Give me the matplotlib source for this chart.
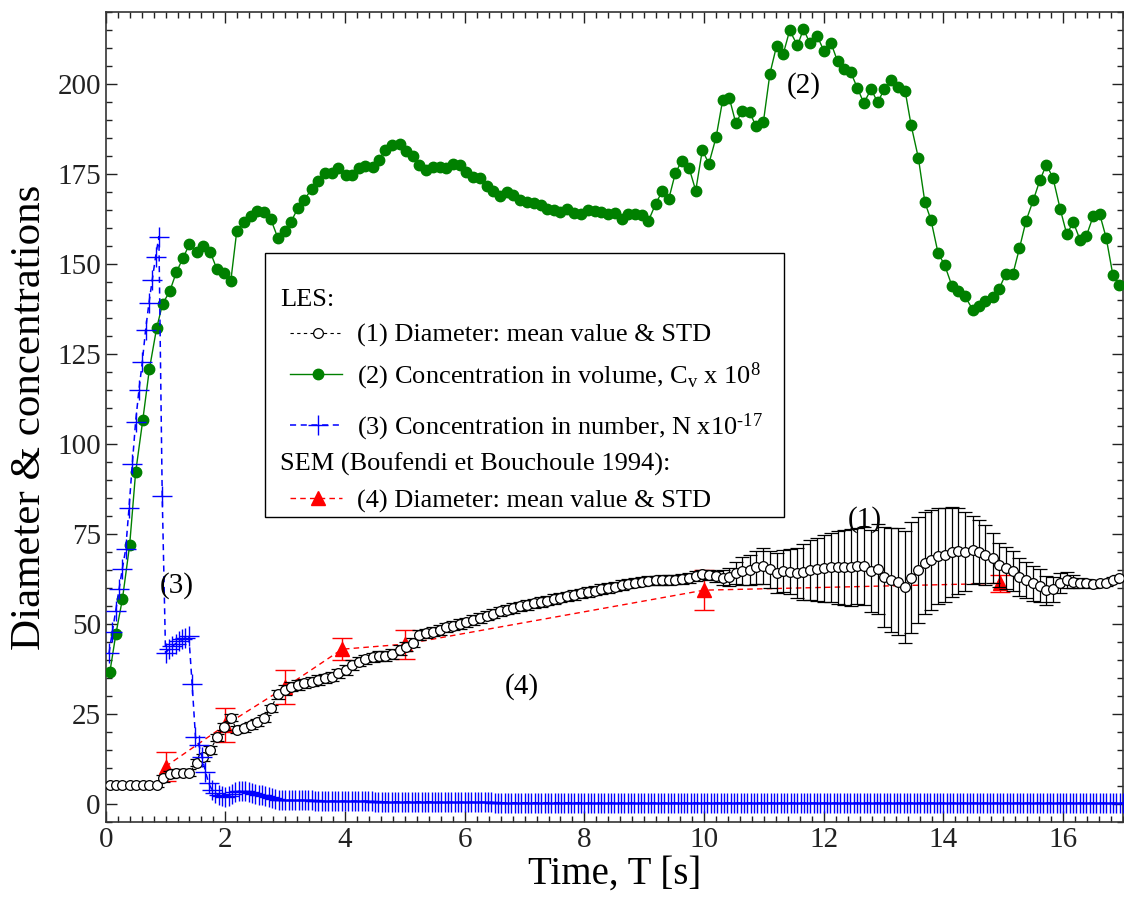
import numpy as np
import matplotlib
matplotlib.use('Agg')
import matplotlib.pyplot as plt
from matplotlib.patches import Rectangle

plt.rcParams['font.family'] = ['Liberation Serif', 'DejaVu Serif']
plt.rcParams['mathtext.fontset'] = 'custom'
plt.rcParams['mathtext.rm'] = 'Liberation Serif'
plt.rcParams['mathtext.it'] = 'Liberation Serif:italic'

# LES time samples (diameter + volume concentration), s
t_les = [0.07, 0.17, 0.28, 0.40, 0.50, 0.62, 0.73, 0.85, 0.95, 1.07,
         1.18, 1.29, 1.40, 1.52, 1.63, 1.75, 1.86, 1.97, 2.09, 2.19,
         2.31, 2.42, 2.53, 2.65, 2.76, 2.88, 2.99, 3.10, 3.21, 3.32,
         3.44, 3.55, 3.67, 3.78, 3.89, 4.01, 4.12, 4.23, 4.34, 4.46,
         4.57, 4.67, 4.79, 4.91, 5.02, 5.14, 5.24, 5.36, 5.47, 5.58,
         5.69, 5.80, 5.92, 6.02, 6.14, 6.26, 6.37, 6.48, 6.59, 6.70,
         6.81, 6.92, 7.04, 7.16, 7.27, 7.38, 7.49, 7.60, 7.71, 7.83,
         7.94, 8.06, 8.17, 8.28, 8.39, 8.51, 8.62, 8.73, 8.84, 8.96,
         9.07, 9.19, 9.30, 9.41, 9.52, 9.63, 9.75, 9.86, 9.97, 10.08,
         10.20, 10.31, 10.42, 10.53, 10.64, 10.76, 10.87, 10.99, 11.10, 11.21,
         11.32, 11.43, 11.56, 11.66, 11.77, 11.89, 12.00, 12.12, 12.23, 12.34,
         12.45, 12.56, 12.67, 12.79, 12.90, 13.01, 13.13, 13.24, 13.36, 13.46,
         13.58, 13.69, 13.79, 13.91, 14.02, 14.14, 14.25, 14.36, 14.49, 14.59,
         14.70, 14.82, 14.93, 15.04, 15.16, 15.27, 15.38, 15.50, 15.61, 15.72,
         15.83, 15.95, 16.06, 16.17, 16.28, 16.39, 16.50, 16.61, 16.72, 16.83,
         16.94]

# (2) concentration in volume Cv x 1e8
cv = [36.7, 47.2, 57.0, 71.9, 92.1, 106.7, 120.8, 132.1, 138.9, 142.4,
      147.7, 151.6, 155.5, 153.3, 155.1, 153.2, 148.5, 147.4, 145.2, 159.1,
      161.7, 163.2, 164.8, 164.4, 162.4, 157.1, 159.3, 161.8, 165.5, 167.9,
      170.8, 173.1, 175.4, 175.3, 176.6, 174.7, 174.6, 176.6, 177.1, 177.0,
      179.0, 181.8, 183.0, 183.2, 181.4, 180.0, 177.6, 176.0, 177.0, 177.0,
      176.6, 177.8, 177.5, 175.6, 174.1, 173.8, 171.8, 170.4, 169.0, 169.9,
      169.1, 167.8, 167.2, 166.9, 166.5, 165.4, 164.9, 164.5, 165.4, 164.2,
      163.9, 164.9, 164.8, 164.5, 164.0, 164.1, 162.4, 164.0, 164.0, 163.7,
      162.0, 166.7, 170.2, 168.1, 175.3, 178.7, 176.6, 170.4, 181.6, 177.9,
      185.2, 195.5, 196.2, 189.1, 192.6, 192.2, 188.2, 189.4, 202.9, 210.5,
      208.2, 214.9, 210.7, 215.2, 211.3, 213.3, 209.3, 211.4, 206.3, 204.2,
      203.3, 198.9, 194.7, 198.6, 194.9, 198.5, 201.0, 199.1, 198.0, 188.5,
      179.5, 167.1, 162.3, 153.0, 149.7, 144.0, 142.4, 141.0, 137.3, 138.4,
      139.6, 140.8, 143.1, 147.2, 147.2, 154.4, 162.0, 167.7, 173.2, 177.6,
      173.9, 165.3, 158.3, 161.6, 156.8, 157.9, 163.2, 163.9, 157.2, 147.0,
      144.2]

# (1) mean diameter and STD (LES)
d_mean = [5.3, 5.3, 5.3, 5.3, 5.3, 5.3, 5.3, 5.3, 7.1, 8.3,
          8.6, 8.7, 8.7, 11.5, 13.0, 15.0, 18.5, 21.5, 24.0, 20.6,
          21.0, 21.9, 22.7, 23.8, 26.6, 30.5, 31.7, 32.6, 33.1, 33.5,
          34.0, 34.4, 34.9, 35.4, 36.3, 37.2, 38.6, 39.5, 40.2, 40.7,
          41.1, 41.1, 41.7, 42.8, 43.7, 44.8, 46.9, 47.4, 47.9, 48.3,
          49.1, 49.5, 50.0, 50.5, 51.1, 51.7, 52.3, 52.9, 53.5, 54.0,
          54.4, 54.9, 55.3, 55.7, 56.1, 56.5, 56.9, 57.3, 57.7, 58.1,
          58.5, 58.9, 59.3, 59.7, 60.0, 60.4, 60.8, 61.2, 61.5, 61.8,
          62.0, 62.1, 62.2, 62.2, 62.3, 62.5, 62.8, 63.3, 63.8, 63.6,
          63.3, 62.9, 63.1, 64.2, 64.7, 65.0, 65.7, 66.1, 65.2, 64.2,
          64.7, 64.5, 64.2, 64.5, 65.0, 65.2, 65.5, 65.7, 65.7, 65.7,
          65.7, 66.1, 66.1, 64.7, 65.2, 63.1, 62.2, 61.8, 60.2, 62.9,
          65.0, 66.9, 67.8, 68.9, 69.2, 70.1, 70.3, 70.1, 70.6, 70.1,
          69.2, 68.3, 66.4, 65.5, 64.7, 63.1, 62.2, 61.3, 60.6, 59.4,
          59.6, 61.3, 62.2, 61.8, 61.5, 61.3, 61.1, 61.3, 61.3, 62.2,
          62.7]
d_std = ([0.5] * 8 + [1.0] * 17 + [1.3] * 65 +
         [1.5, 2.0, 2.5, 3.0, 3.8, 4.2, 4.6, 5.0, 5.2, 5.5,
          5.8, 6.3, 7.0, 7.8, 8.3, 8.8, 9.3, 9.7, 10.2, 10.5,
          10.6, 10.6, 10.8, 11.3, 12.5, 13.8, 14.4, 14.8, 15.5, 15.3,
          14.6, 14.2, 13.9, 13.4, 13.0, 12.5, 12.0, 11.0, 9.5, 8.8,
          8.3, 7.0, 6.0, 5.8, 5.5, 5.2, 5.0, 4.8, 4.6, 4.0,
          3.5, 2.8, 2.3, 1.8, 1.4, 1.1, 1.0, 0.9, 0.8, 0.8,
          0.8])

# (3) concentration in number N x 1e-17, sampled every 1/18 s
n_early = [41.9, 47.9, 53.6, 59.6, 65.3, 70.7, 82.1, 94.4, 106.2, 115.0,
           122.7, 131.7, 139.1, 145.6, 152.0, 157.6, 85.6, 42.0, 43.0, 43.8,
           44.5, 45.2, 45.7, 46.2, 46.8, 33.3, 18.7, 16.5, 13.0, 9.0,
           5.7, 3.9, 3.0, 2.5, 2.2, 2.0, 2.3, 2.8, 3.2, 3.5,
           3.6, 3.5, 3.3, 3.1, 2.9, 2.6, 2.4, 2.2, 2.0, 1.7,
           1.4, 1.2, 1.1]
n_tail = [1.0] * 9 + [0.8] * 18 + [0.6] * 18 + [0.45] * 18 + [0.35] * 27 + [0.25] * 163
n_num = n_early + n_tail
t_num = np.arange(1, len(n_num) + 1) / 18.0

# (4) SEM measurements (Boufendi et Bouchoule 1994)
t_sem = [1.0, 2.0, 3.0, 3.95, 5.0, 10.0, 14.95]
d_sem = [10.4, 21.9, 32.4, 43.0, 44.4, 59.4, 61.3]
sd_sem = [4.0, 4.7, 4.7, 3.0, 4.0, 5.5, 2.3]

fig = plt.figure(figsize=(11.24, 9.07), dpi=100)
ax = fig.add_axes([105.7 / 1124, 1 - 822 / 907, 1017.3 / 1124, 810 / 907])

ax.errorbar(t_sem, d_sem, yerr=sd_sem, color='red', ls='--', lw=1.0,
            dashes=(4, 3), marker='^', ms=10, capsize=7, elinewidth=1.0, zorder=2)
ax.plot(t_les, cv, color='green', lw=1.0, marker='o', ms=7.5, zorder=3)
ax.errorbar(t_les, d_mean, yerr=d_std, color='black', ls='--', lw=0.8,
            dashes=(3, 3), marker='o', ms=7, mfc='white', mec='black', mew=0.9,
            capsize=5, elinewidth=0.9, capthick=0.9, zorder=4)
ax.plot(t_num, n_num, color='blue', ls='--', dashes=(4, 3), lw=1.1,
        marker='+', ms=14, mew=1.0, zorder=5)

ax.set_xlim(0, 17)
ax.set_ylim(-5, 220)
ax.set_xticks(np.arange(0, 17, 2))
ax.set_xticks(np.arange(0, 17.01, 0.2), minor=True)
ax.set_yticks(np.arange(0, 201, 25))
ax.set_yticks(np.arange(-5, 220.1, 5), minor=True)
ax.tick_params(which='both', direction='in', top=True, right=True,
               labelsize=21, width=1.0, colors='#222222')
ax.tick_params(which='major', length=8)
ax.tick_params(which='minor', length=4)
for s in ax.spines.values():
    s.set_linewidth(1.2)
    s.set_color('#333333')

ax.set_xlabel('Time, T [s]', fontsize=28, labelpad=2)
ax.set_ylabel('Diameter & concentrations', fontsize=31, labelpad=6)

ax.text(12.68, 78.9, '(1)', fontsize=21, ha='center', va='center', zorder=6)
ax.text(11.67, 199.7, '(2)', fontsize=21, ha='center', va='center', zorder=6)
ax.text(1.19, 60.6, '(3)', fontsize=21, ha='center', va='center', zorder=6)
ax.text(6.96, 32.5, '(4)', fontsize=21, ha='center', va='center', zorder=6)

# legend box drawn by hand (headers + entries)
tr = ax.transAxes
ax.add_patch(Rectangle((0.1565, 0.3765), 0.5105, 0.326, transform=tr,
                       facecolor='white', edgecolor='black', lw=1.0, zorder=10))
hx0, hx1, hm = 0.181, 0.2325, 0.2086
tx = 0.247
lfs = 19
ax.text(0.1713, 0.637, 'LES:', transform=tr, fontsize=lfs, va='baseline', zorder=11)
ax.plot([hx0, hx1], [0.604, 0.604], transform=tr, color='black', ls='--', dashes=(3, 3), lw=0.8, zorder=11)
ax.plot([hm], [0.604], transform=tr, marker='o', ms=7, mfc='white', mec='black', mew=0.9, zorder=12)
ax.text(tx, 0.593, '(1) Diameter: mean value & STD', transform=tr, fontsize=lfs, va='baseline', zorder=11)
ax.plot([hx0, hx1], [0.553, 0.553], transform=tr, color='green', lw=1.0, zorder=11)
ax.plot([hm], [0.553], transform=tr, marker='o', ms=7.5, color='green', zorder=12)
ax.text(tx, 0.5416, r'(2) Concentration in volume, C$_\mathregular{v}$ x 10$^\mathregular{8}$',
        transform=tr, fontsize=lfs, va='baseline', zorder=11)
ax.plot([hx0, hx1], [0.490, 0.490], transform=tr, color='blue', ls='--', dashes=(4, 3), lw=1.1, zorder=11)
ax.plot([hm], [0.490], transform=tr, marker='+', ms=14, mew=1.0, color='blue', zorder=12)
ax.text(tx, 0.4786, r'(3) Concentration in number, N x10$^{\text{-}\mathregular{17}}$',
        transform=tr, fontsize=lfs, va='baseline', zorder=11)
ax.text(0.1713, 0.4333, 'SEM (Boufendi et Bouchoule 1994):', transform=tr, fontsize=lfs,
        va='baseline', zorder=11)
ax.plot([hx0, hx1], [0.400, 0.400], transform=tr, color='red', ls='--', dashes=(4, 3), lw=1.0, zorder=11)
ax.plot([hm], [0.400], transform=tr, marker='^', ms=10, color='red', zorder=12)
ax.text(tx, 0.388, '(4) Diameter: mean value & STD', transform=tr, fontsize=lfs, va='baseline', zorder=11)

fig.savefig('out.png', dpi=100)
